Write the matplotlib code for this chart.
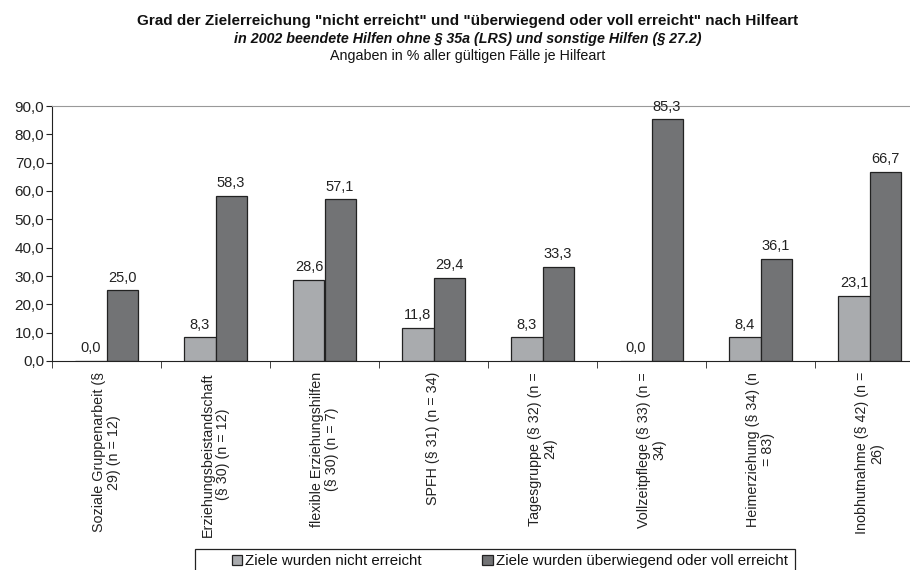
import numpy as np
import matplotlib.pyplot as plt
from matplotlib.patches import Rectangle

plt.rcParams["font.family"] = ["Liberation Sans", "DejaVu Sans"]

kategorien = [
    "Soziale Gruppenarbeit (§\n29) (n = 12)",
    "Erziehungsbeistandschaft\n(§ 30) (n = 12)",
    "flexible Erziehungshilfen\n(§ 30) (n = 7)",
    "SPFH (§ 31) (n = 34)",
    "Tagesgruppe (§ 32) (n =\n24)",
    "Vollzeitpflege (§ 33) (n =\n34)",
    "Heimerziehung (§ 34) (n\n= 83)",
    "Inobhutnahme (§ 42) (n =\n26)",
]
nicht_erreicht = [0.0, 8.3, 28.6, 11.8, 8.3, 0.0, 8.4, 23.1]
voll_erreicht = [25.0, 58.3, 57.1, 29.4, 33.3, 85.3, 36.1, 66.7]
y_ticks = [0, 10, 20, 30, 40, 50, 60, 70, 80, 90]

hell = "#a9abae"
dunkel = "#727375"
W, H = 910, 570

fig = plt.figure(figsize=(9.1, 5.7), dpi=100)
ax = fig.add_axes([52 / W, 209 / H, 872 / W, 255 / H])

x = np.arange(len(kategorien))
w = 0.285
b1 = ax.bar(x - w / 2, nicht_erreicht, w, color=hell, edgecolor="#222222", linewidth=0.9,
            label="Ziele wurden nicht erreicht")
b2 = ax.bar(x + w / 2, voll_erreicht, w, color=dunkel, edgecolor="#222222", linewidth=0.9,
            label="Ziele wurden überwiegend oder voll erreicht")

for bars, vals in [(b1, nicht_erreicht), (b2, voll_erreicht)]:
    for r, v in zip(bars, vals):
        ax.annotate(f"{v:.1f}".replace(".", ","), (r.get_x() + r.get_width() / 2, v),
                    xytext=(0, 4), textcoords="offset points", ha="center", va="bottom",
                    fontsize=10.5, color="#222222")

ax.set_xlim(-0.5, len(kategorien) - 0.5)
ax.set_ylim(0, 90)
ax.set_yticks(y_ticks)
ax.set_yticklabels([f"{t:.1f}".replace(".", ",") for t in y_ticks], fontsize=11, color="#222222")

# Kategorien als gedrehte, zentrierte Texte unter der Achse
ax.set_xticks([])
for i, k in enumerate(kategorien):
    ax.annotate(k, (i, 0), xycoords=("data", "axes fraction"), xytext=(0, -8),
                textcoords="offset points", rotation=90, ha="center", va="top",
                multialignment="center", fontsize=10.3, color="#222222", linespacing=1.15)
ax.set_xticks(np.arange(len(kategorien)) - 0.5, minor=True)
ax.tick_params(axis="x", which="minor", length=5, direction="out", color="#222222")
ax.tick_params(axis="y", length=4, color="#222222", pad=1.5)

ax.spines["right"].set_visible(False)
ax.spines["top"].set_color("#999999")
ax.spines["left"].set_color("#222222")
ax.spines["bottom"].set_color("#222222")

cx = 468 / W
fig.text(cx, 1 - 21 / H, 'Grad der Zielerreichung "nicht erreicht" und "überwiegend oder voll erreicht" nach Hilfeart',
         ha="center", va="center", fontsize=11, fontweight="bold", color="#111111")
fig.text(cx, 1 - 39 / H, "in 2002 beendete Hilfen ohne § 35a (LRS) und sonstige Hilfen (§ 27.2)",
         ha="center", va="center", fontsize=10.3, fontweight="bold", style="italic", color="#111111",
         family=["Liberation Sans Narrow", "Liberation Sans"])
fig.text(cx, 1 - 56 / H, "Angaben in % aller gültigen Fälle je Hilfeart",
         ha="center", va="center", fontsize=10.3, color="#111111",
         family=["Liberation Sans Narrow", "Liberation Sans"])

# Legendenrahmen (unten abgeschnitten) und zwei Einträge
fig.patches.append(Rectangle((195 / W, -10 / H), 600 / W, (21 + 10) / H, transform=fig.transFigure,
                             fill=False, edgecolor="#222222", linewidth=0.9))
for handle, xpos in [(b1, 232), (b2, 482)]:
    leg = fig.legend(handles=[handle], loc="upper left", bbox_to_anchor=(xpos / W, 1 - 554 / H),
                     fontsize=10.8, frameon=False, handlelength=0.7, handleheight=0.7,
                     handletextpad=0.2, borderpad=0, borderaxespad=0)
    for t in leg.get_texts():
        t.set_color("#111111")

fig.savefig("out.png", dpi=100)
